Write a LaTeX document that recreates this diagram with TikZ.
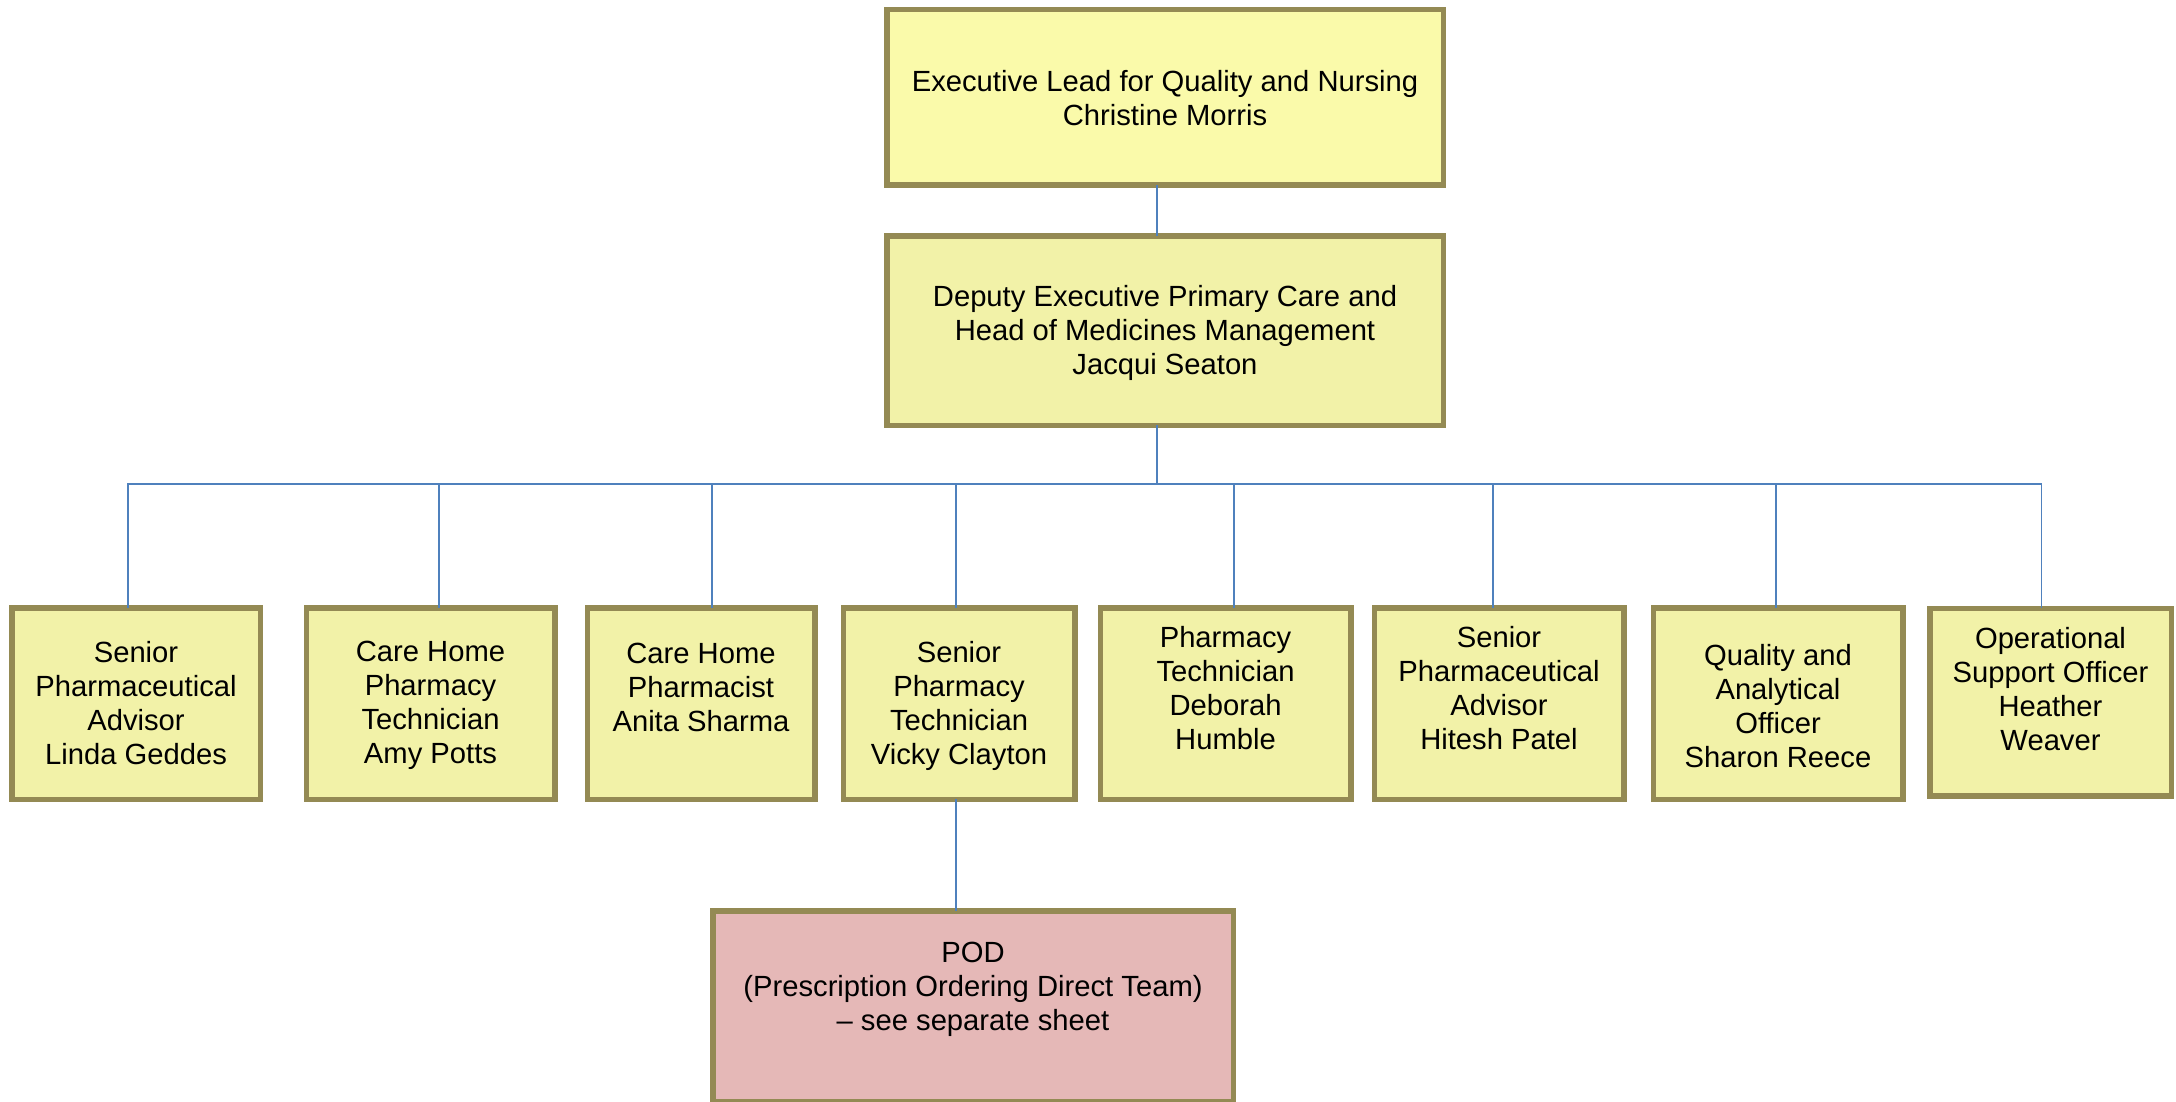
\documentclass[tikz,border=0pt]{standalone}
\usepackage{fontspec}
\setmainfont{Liberation Sans}
\definecolor{edge}{RGB}{148,138,84}
\definecolor{topfill}{RGB}{250,250,170}
\definecolor{yfill}{RGB}{242,242,168}
\definecolor{podfill}{RGB}{229,184,183}
\definecolor{wire}{RGB}{79,129,189}
\begin{document}
\begin{tikzpicture}[x=0.5pt,y=-0.5pt,
  box/.style={draw=edge, line width=2.75pt, fill=yfill, inner sep=0pt, outer sep=0pt},
  lbl/.style={align=center, font=\fontsize{14.6}{17}\selectfont, inner sep=0pt, text=black},
  wirel/.style={draw=wire, line width=0.8pt}]
\useasboundingbox[fill=white] (0,0) rectangle (2176,1102);

% boxes
\node[box, fill=topfill, minimum width=278.25pt, minimum height=87.75pt] (top) at (1165,97.5) {};
\node[box, minimum width=278.25pt, minimum height=94.75pt] (dep) at (1165,330.5) {};
\node[box, minimum width=124.25pt, minimum height=95.75pt] (b1) at (136,703.5) {};
\node[box, minimum width=124.25pt, minimum height=95.75pt] (b2) at (430.5,703.5) {};
\node[box, minimum width=113.75pt, minimum height=95.75pt] (b3) at (701,703.5) {};
\node[box, minimum width=115.75pt, minimum height=95.75pt] (b4) at (959,703.5) {};
\node[box, minimum width=125.25pt, minimum height=95.75pt] (b5) at (1225.5,703.5) {};
\node[box, minimum width=124.75pt, minimum height=95.75pt] (b6) at (1499,703.5) {};
\node[box, minimum width=124.75pt, minimum height=95.75pt] (b7) at (1778,703.5) {};
\node[box, minimum width=120.75pt, minimum height=93.75pt] (b8) at (2050.5,702) {};
\node[box, fill=podfill, minimum width=260.25pt, minimum height=95.25pt] (pod) at (973,1006) {};

% texts
\node[lbl] (ttop) at ([yshift=-0.5pt]top.center) {Executive Lead for Quality and Nursing\\Christine Morris};
\node[lbl] (tdep) at ([yshift=-1pt]dep.center) {Deputy Executive Primary Care and\\Head of Medicines Management\\Jacqui Seaton};
\node[lbl] (t1) at (b1.center) {Senior\\Pharmaceutical\\Advisor\\Linda Geddes};
\node[lbl] (t2) at ([yshift=-1pt]b2.center) {Care Home\\Pharmacy\\Technician\\Amy Potts};
\node[lbl] (t3) at ([yshift=8pt]b3.center) {Care Home\\Pharmacist\\Anita Sharma};
\node[lbl] (t4) at ([yshift=-1pt]b4.center) {Senior\\Pharmacy\\Technician\\Vicky Clayton};
\node[lbl] (t5) at ([yshift=7.5pt]b5.center) {Pharmacy\\Technician\\Deborah\\Humble};
\node[lbl] (t6) at ([yshift=7.5pt]b6.center) {Senior\\Pharmaceutical\\Advisor\\Hitesh Patel};
\node[lbl] (t7) at ([yshift=-1.5pt]b7.center) {Quality and\\Analytical\\Officer\\Sharon Reece};
\node[lbl] (t8) at ([yshift=6.5pt]b8.center) {Operational\\Support Officer\\Heather\\Weaver};
\node[lbl] (tpod) at ([yshift=8.5pt]pod.center) {POD\\(Prescription Ordering Direct Team)\\– see separate sheet};

% connectors
\coordinate (bus) at (1157,484);
\draw[wirel] ([xshift=-4pt]top.south) -- ([xshift=-4pt]dep.north);
\draw[wirel] ([xshift=-4pt]dep.south) -- (bus);
\draw[wirel] (bus) -| ([xshift=-4pt]b1.north);
\draw[wirel] (bus) -| ([xshift=4.25pt]b2.north);
\draw[wirel] (bus) -| ([xshift=5.5pt]b3.north);
\draw[wirel] (bus) -| ([xshift=-1.5pt]b4.north);
\draw[wirel] (bus) -| ([xshift=4.25pt]b5.north);
\draw[wirel] (bus) -| ([xshift=-3pt]b6.north);
\draw[wirel] (bus) -| ([xshift=-1pt]b7.north);
\draw[wirel] (bus) -| ([xshift=-4.5pt]b8.north);
\draw[wirel] ([xshift=-1.5pt]b4.south) -- ([xshift=-8.5pt]pod.north);
\end{tikzpicture}
\end{document}
